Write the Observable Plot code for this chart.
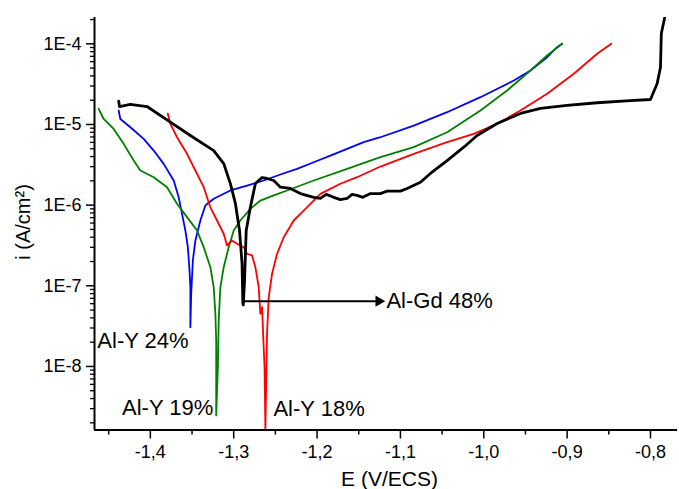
<!DOCTYPE html>
<html><head><meta charset="utf-8">
<script src="https://cdn.jsdelivr.net/npm/d3@7"></script>
<script src="https://cdn.jsdelivr.net/npm/@observablehq/plot@0.6"></script>
<style>body{margin:0;background:#fff;}</style>
</head><body><div id="chart"></div>
<script>
// Axis extents and ticks
const xDomain = [-1.467, -0.7676];
const yDomain = [1.63e-9, 2.12e-4];
const xTicks = [-1.4, -1.3, -1.2, -1.1, -1.0, -0.9, -0.8];
const xTickLabels = ["-1,4", "-1,3", "-1,2", "-1,1", "-1,0", "-0,9", "-0,8"];
const xMinorTicks = [-1.45, -1.35, -1.25, -1.15, -1.05, -0.95, -0.85];
const yTicks = [1e-8, 1e-7, 1e-6, 1e-5, 1e-4];
const yTickLabels = ["1E-8", "1E-7", "1E-6", "1E-5", "1E-4"];
const yMinorTicks = [];
for (let k = -9; k <= -4; k++) for (let m = 2; m <= 9; m++) {
  const v = m * Math.pow(10, k);
  if (v >= yDomain[0] && v <= yDomain[1]) yMinorTicks.push(v);
}

// Series: [E (V/ECS), i (A/cm2)]
const alGd48 = [[-1.438,1.95e-5],[-1.437,1.67e-5],[-1.424,1.77e-5],[-1.404,1.67e-5],[-1.376,1.07e-5],[-1.352,7.3e-6],[-1.324,4.75e-6],[-1.312,3.28e-6],[-1.304,1.85e-6],[-1.298,1.05e-6],[-1.293,4.84e-7],[-1.290,1.89e-7],[-1.289,5.98e-8],[-1.2885,5.8e-8],[-1.287,1.16e-7],[-1.285,4.84e-7],[-1.280,9.4e-7],[-1.274,1.85e-6],[-1.266,2.2e-6],[-1.260,2.14e-6],[-1.252,2.02e-6],[-1.244,1.67e-6],[-1.232,1.61e-6],[-1.220,1.39e-6],[-1.204,1.25e-6],[-1.196,1.21e-6],[-1.189,1.36e-6],[-1.180,1.25e-6],[-1.172,1.17e-6],[-1.164,1.21e-6],[-1.158,1.36e-6],[-1.152,1.32e-6],[-1.145,1.25e-6],[-1.136,1.39e-6],[-1.124,1.39e-6],[-1.116,1.49e-6],[-1.100,1.49e-6],[-1.092,1.61e-6],[-1.076,1.92e-6],[-1.064,2.47e-6],[-1.044,3.57e-6],[-1.024,5.23e-6],[-1.008,7.3e-6],[-0.984,1.03e-5],[-0.956,1.37e-5],[-0.932,1.58e-5],[-0.900,1.72e-5],[-0.864,1.86e-5],[-0.824,1.98e-5],[-0.800,2.04e-5],[-0.792,3.22e-5],[-0.788,5.13e-5],[-0.787,1.34e-4],[-0.783,2.1e-4]];
const alY24 = [[-1.438,1.49e-5],[-1.436,1.17e-5],[-1.424,9.25e-6],[-1.408,6.64e-6],[-1.396,4.75e-6],[-1.384,3.25e-6],[-1.372,2.02e-6],[-1.366,1.25e-6],[-1.362,7.8e-7],[-1.358,4.85e-7],[-1.355,3.01e-7],[-1.353,1.55e-7],[-1.352,9.6e-8],[-1.352,3.07e-8],[-1.351,8.0e-8],[-1.349,2.06e-7],[-1.346,3.65e-7],[-1.340,6.45e-7],[-1.334,9.9e-7],[-1.324,1.2e-6],[-1.304,1.52e-6],[-1.284,1.75e-6],[-1.264,2.02e-6],[-1.244,2.4e-6],[-1.224,2.82e-6],[-1.204,3.4e-6],[-1.184,4.12e-6],[-1.164,4.99e-6],[-1.144,6.03e-6],[-1.124,6.95e-6],[-1.084,9.7e-6],[-1.044,1.42e-5],[-1.004,2.18e-5],[-0.964,3.51e-5],[-0.944,4.67e-5],[-0.924,6.82e-5],[-0.912,9.08e-5],[-0.906,1.0e-4]];
const alY19 = [[-1.462,1.56e-5],[-1.456,1.17e-5],[-1.444,8.8e-6],[-1.432,5.75e-6],[-1.420,3.57e-6],[-1.412,2.69e-6],[-1.396,2.22e-6],[-1.380,1.67e-6],[-1.368,1.04e-6],[-1.356,7.1e-7],[-1.344,4.85e-7],[-1.336,3.01e-7],[-1.328,1.7e-7],[-1.324,9.6e-8],[-1.322,4.5e-8],[-1.321,2.1e-8],[-1.321,2.47e-9],[-1.319,9.8e-9],[-1.318,3.72e-8],[-1.316,9.6e-8],[-1.312,1.7e-7],[-1.306,3.01e-7],[-1.300,4.85e-7],[-1.292,6.45e-7],[-1.280,9.0e-7],[-1.268,1.14e-6],[-1.252,1.32e-6],[-1.236,1.52e-6],[-1.204,2.02e-6],[-1.164,2.82e-6],[-1.124,3.93e-6],[-1.084,5.23e-6],[-1.044,8.0e-6],[-1.004,1.49e-5],[-0.972,2.64e-5],[-0.944,4.67e-5],[-0.924,7.16e-5],[-0.906,1.0e-4]];
const alY18 = [[-1.379,1.36e-5],[-1.376,1.02e-5],[-1.368,6.95e-6],[-1.356,4.33e-6],[-1.346,2.69e-6],[-1.336,1.67e-6],[-1.328,9.4e-7],[-1.320,6.45e-7],[-1.312,4.42e-7],[-1.308,3.16e-7],[-1.302,3.65e-7],[-1.296,3.32e-7],[-1.288,3.01e-7],[-1.284,2.49e-7],[-1.278,2.38e-7],[-1.274,1.7e-7],[-1.270,9.6e-8],[-1.268,4.5e-8],[-1.266,5.43e-8],[-1.265,3.07e-8],[-1.263,9.8e-9],[-1.262,1.65e-9],[-1.260,2.56e-8],[-1.258,7.2e-8],[-1.254,1.41e-7],[-1.248,2.49e-7],[-1.240,4.0e-7],[-1.228,6.45e-7],[-1.220,7.8e-7],[-1.208,1.04e-6],[-1.196,1.38e-6],[-1.172,1.84e-6],[-1.152,2.22e-6],[-1.124,3.01e-6],[-1.084,4.33e-6],[-1.044,6.03e-6],[-1.012,7.66e-6],[-0.984,1.02e-5],[-0.956,1.49e-5],[-0.924,2.4e-5],[-0.892,4.25e-5],[-0.864,7.52e-5],[-0.847,1.0e-4]];

// Curve labels
const labelTexts = ["Al-Y 24%", "Al-Y 19%", "Al-Y 18%", "Al-Gd 48%"];
const labelE = [-1.4636, -1.434, -1.2524, -1.1168];
const labelI = [2.1e-8, 3.06e-9, 3.01e-9, 6.58e-8];
// Arrow for Al-Gd 48%
const arrowE = [-1.2896, -1.126];
const arrowI = 6.44e-8;

const series = [
  {data: alY24, color: "#0000ff", w: 1.8},
  {data: alY19, color: "#008000", w: 1.8},
  {data: alY18, color: "#ff0000", w: 1.8},
  {data: alGd48, color: "#000000", w: 2.8}
];

const chart = Plot.plot({
  width: 679, height: 489,
  marginLeft: 94, marginRight: 2, marginTop: 17, marginBottom: 59.5,
  x: {type: "linear", domain: xDomain},
  y: {type: "log", domain: yDomain},
  style: {fontFamily: "'Liberation Sans', Arial, sans-serif", fontSize: "18px", background: "#fff", color: "#000", overflow: "visible"},
  marks: [
    ...series.map(s => Plot.line(s.data, {x: d => d[0], y: d => d[1], stroke: s.color, strokeWidth: s.w, clip: true, curve: "linear"})),
    Plot.link([0], {x1: arrowE[0], x2: arrowE[1], y1: arrowI, y2: arrowI, stroke: "#000", strokeWidth: 2}),
    Plot.dot([0], {x: arrowE[1], y: arrowI, symbol: "triangle", rotate: 90, r: 4.2, fill: "#000", stroke: "none"}),
    Plot.text(labelTexts, {x: (d, i) => labelE[i], y: (d, i) => labelI[i], text: d => d, textAnchor: "start", fontSize: 22, fill: "#000"}),
    Plot.axisX(xMinorTicks, {tickSize: 5, tickFormat: () => "", label: null, strokeWidth: 1.5}),
    Plot.axisX(xTicks, {tickSize: 9, tickPadding: 6, tickFormat: d => xTickLabels[xTicks.indexOf(d)], label: null, strokeWidth: 1.5, fontSize: 18}),
    Plot.axisY(yMinorTicks, {tickSize: 4, tickFormat: () => "", label: null, strokeWidth: 1.3}),
    Plot.axisY(yTicks, {tickSize: 8, tickPadding: 5, tickFormat: d => yTickLabels[yTicks.indexOf(d)], label: null, strokeWidth: 1.5, fontSize: 18}),
    Plot.ruleX([xDomain[0]], {stroke: "#000", strokeWidth: 2}),
    Plot.ruleY([yDomain[0]], {stroke: "#000", strokeWidth: 2}),
    Plot.text(["i (A/cm²)"], {frameAnchor: "left", text: d => d, rotate: -90, dx: -71, dy: 36, fontSize: 20}),
    Plot.text(["E (V/ECS)"], {frameAnchor: "bottom", text: d => d, lineAnchor: "bottom", dx: 3.5, dy: 56, fontSize: 21})
  ]
});
document.getElementById("chart").appendChild(chart);
</script>
</body></html>
